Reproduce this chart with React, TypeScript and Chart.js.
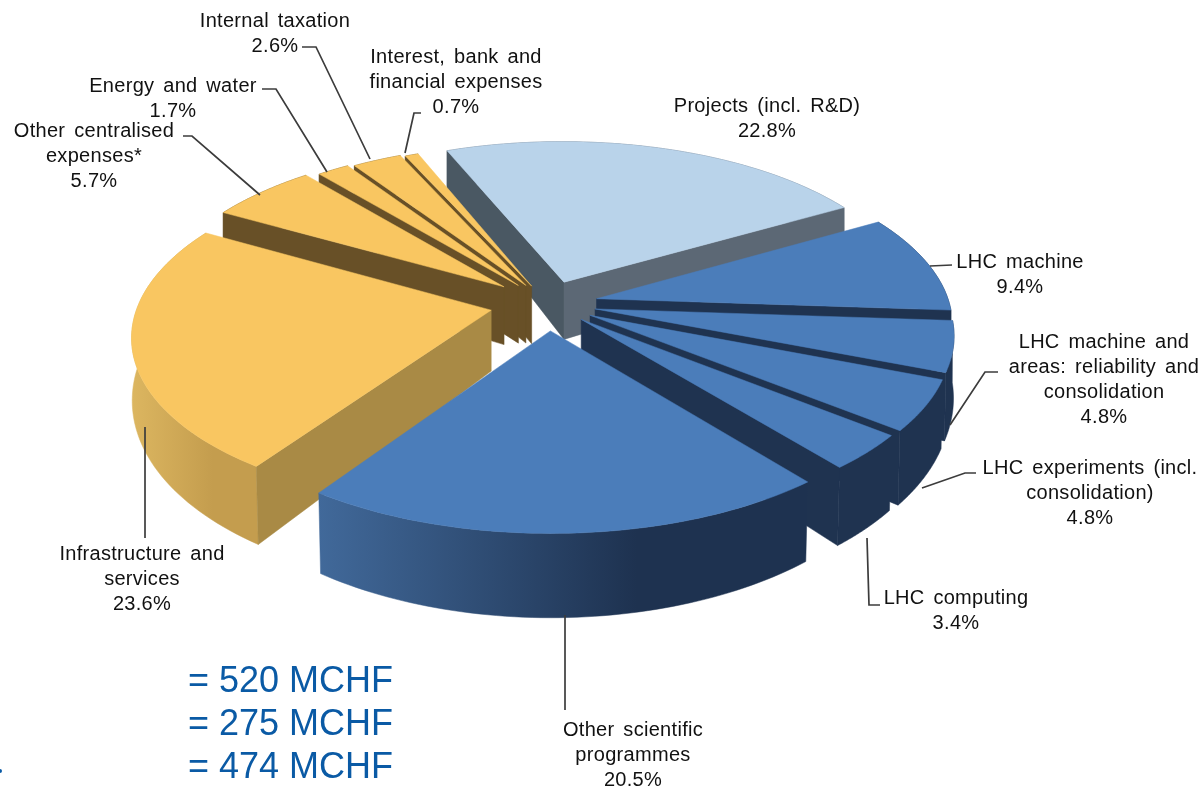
import React, { useEffect, useRef } from "react";
import { Chart, registerables } from "chart.js";

Chart.register(...registerables);

const categories = [
  "Projects (incl. R&D)",
  "LHC machine",
  "LHC machine and areas: reliability and consolidation",
  "LHC experiments (incl. consolidation)",
  "LHC computing",
  "Other scientific programmes",
  "Infrastructure and services",
  "Other centralised expenses*",
  "Energy and water",
  "Internal taxation",
  "Interest, bank and financial expenses",
];
const shares = [22.8, 9.4, 4.8, 4.8, 3.4, 20.5, 23.6, 5.7, 1.7, 2.6, 0.7];
const topColors = ["#b9d3ea", "#4b7dba", "#4b7dba", "#4b7dba", "#4b7dba", "#4b7dba", "#f9c661", "#f9c661", "#f9c661", "#f9c661", "#f9c661"];
const explode = [50, 50, 48, 48, 46, 56, 58, 58, 50, 46, 42];
const sideColors = ["#5c6875", "#1f3350", "#1f3350", "#1f3350", "#1f3350", "#1f3350", "#a98a45", "#685027", "#685027", "#685027", "#685027"];
const startSideColors = ["#4a5863", "#1f3350", "#1f3350", "#1f3350", "#1f3350", "#1f3350", "#a98a45", "#685027", "#685027", "#685027", "#685027"];
const rimLeft = ["#5c6875", "#1f3350", "#1f3350", "#1f3350", "#1f3350", "#41699a", "#dcb660", "#685027", "#685027", "#685027", "#685027"];
const rimRight = ["#5c6875", "#1f3350", "#1f3350", "#1f3350", "#1f3350", "#1e3250", "#c49d4e", "#685027", "#685027", "#685027", "#685027"];

const labelLines = [
  ["Internal taxation", "2.6%"],
  ["Interest, bank and", "financial expenses", "0.7%"],
  ["Projects (incl. R&D)", "22.8%"],
  ["Energy and water", "1.7%"],
  ["Other centralised", "expenses*", "5.7%"],
  ["LHC machine", "9.4%"],
  ["LHC machine and", "areas: reliability and", "consolidation", "4.8%"],
  ["LHC experiments (incl.", "consolidation)", "4.8%"],
  ["LHC computing", "3.4%"],
  ["Other scientific", "programmes", "20.5%"],
  ["Infrastructure and", "services", "23.6%"],
];
const labelAnchors = [
  [275, 21], [456, 57], [767, 106], [173, 86], [94, 131], [1020, 262],
  [1104, 342], [1090, 468], [956, 598], [633, 730], [142, 554],
];
const leaders = [
  [[302, 47], [316, 47], [370, 159]],
  [[421, 113], [414, 113], [405, 153]],
  [],
  [[262, 89], [276, 89], [327, 172]],
  [[183, 136], [192, 136], [260, 195]],
  [[930, 266], [952, 265]],
  [[950, 425], [985, 372], [998, 372]],
  [[922, 488], [965, 473], [976, 473]],
  [[867, 538], [869, 605], [880, 605]],
  [[565, 615], [565, 710]],
  [[145, 427], [145, 538]],
];
const budgetLines = ["= 520 MCHF", "= 275 MCHF", "= 474 MCHF"];

const GEOM = { cx: 548, cy: 304, R: 353, k: 0.47, p: 0.14, H: 60, q: 0.35, lean: 0.008 };

function project(wx: number, wy: number, z: number) {
  const { cx, cy, R, k, p, H, q, lean } = GEOM;
  const Y = wy / R;
  const s = 1 / (1 - p * Y);
  const shrink = 1 - lean * z * Math.max(Y, 0);
  return [cx + wx * s * shrink, cy + wy * k * s + z * H * (1 + q * Y)];
}

function poly(ctx: CanvasRenderingContext2D, pts: number[][], fill: any) {
  ctx.beginPath();
  pts.forEach((pt, i) => (i ? ctx.lineTo(pt[0], pt[1]) : ctx.moveTo(pt[0], pt[1])));
  ctx.closePath();
  ctx.fillStyle = fill;
  ctx.fill();
  ctx.strokeStyle = fill;
  ctx.lineWidth = 0.5;
  ctx.stroke();
}

const pie3d = {
  id: "pie3d",
  beforeDatasetDraw(chart: any) {
    const ctx: CanvasRenderingContext2D = chart.ctx;
    const arcs = chart.getDatasetMeta(0).data;
    const { R } = GEOM;
    const order = arcs
      .map((a: any, i: number) => ({ a, i, mid: (a.startAngle + a.endAngle) / 2 }))
      .sort((u: any, v: any) => Math.sin(u.mid) - Math.sin(v.mid));
    ctx.save();
    for (const { a, i, mid } of order) {
      const e = a.options.offset;
      const ox = e * Math.cos(mid);
      const oy = e * Math.sin(mid);
      const rim: number[][] = [];
      const steps = 60;
      for (let n = 0; n <= steps; n++) {
        const t = a.startAngle + ((a.endAngle - a.startAngle) * n) / steps;
        rim.push([ox + R * Math.cos(t), oy + R * Math.sin(t)]);
      }
      const top = rim.map((w) => project(w[0], w[1], 0));
      const bottom = rim.map((w) => project(w[0], w[1], 1));
      const apexT = project(ox, oy, 0);
      const apexB = project(ox, oy, 1);

      const xs = top.map((pt) => pt[0]);
      const g = ctx.createLinearGradient(Math.min(...xs), 0, Math.max(...xs), 0);
      g.addColorStop(0, rimLeft[i]);
      g.addColorStop(0.65, rimRight[i]);
      g.addColorStop(1, rimRight[i]);
      poly(ctx, [...top, ...bottom.slice().reverse()], g);

      const startNormalY = -Math.cos(a.startAngle);
      const endNormalY = Math.cos(a.endAngle);
      if (startNormalY > 0) {
        poly(ctx, [apexT, top[0], bottom[0], apexB], startSideColors[i]);
      }
      if (endNormalY > 0) {
        poly(ctx, [apexT, top[steps], bottom[steps], apexB], sideColors[i]);
      }
      poly(ctx, [apexT, ...top], a.options.backgroundColor);
    }
    ctx.restore();
    return false;
  },
  afterDraw(chart: any) {
    const ctx: CanvasRenderingContext2D = chart.ctx;
    ctx.save();
    ctx.strokeStyle = "#3c3c3c";
    ctx.lineWidth = 1.7;
    leaders.forEach((path) => {
      if (!path.length) return;
      ctx.beginPath();
      path.forEach((pt, i) => (i ? ctx.lineTo(pt[0], pt[1]) : ctx.moveTo(pt[0], pt[1])));
      ctx.stroke();
    });
    ctx.fillStyle = "#111111";
    ctx.font = '20px "Liberation Sans"';
    (ctx as any).letterSpacing = "0.3px";
    (ctx as any).wordSpacing = "3px";
    ctx.textAlign = "center";
    ctx.textBaseline = "middle";
    labelLines.forEach((lines, i) => {
      lines.forEach((line, j) => ctx.fillText(line, labelAnchors[i][0], labelAnchors[i][1] + j * 25));
    });
    (ctx as any).letterSpacing = "0px";
    (ctx as any).wordSpacing = "0px";
    ctx.fillStyle = "#0a5aa5";
    ctx.font = '36px "Liberation Sans"';
    ctx.textAlign = "left";
    ctx.textBaseline = "alphabetic";
    budgetLines.forEach((line, j) => ctx.fillText(line, 188, 692 + j * 43));
    ctx.beginPath();
    ctx.arc(0, 771, 2, 0, Math.PI * 2);
    ctx.fill();
    ctx.restore();
  },
};

export default function App() {
  const ref = useRef<HTMLCanvasElement>(null);
  useEffect(() => {
    document.body.style.margin = "0";
    const chart = new Chart(ref.current as HTMLCanvasElement, {
      type: "pie",
      data: {
        labels: categories,
        datasets: [{ data: shares, backgroundColor: topColors, offset: explode, borderWidth: 0 }],
      },
      options: {
        responsive: false,
        animation: false,
        rotation: -22,
        plugins: { legend: { display: false }, tooltip: { enabled: false } },
      },
      plugins: [pie3d],
    } as any);
    return () => chart.destroy();
  }, []);
  return <canvas ref={ref} width={1203} height={789} style={{ display: "block" }} />;
}
